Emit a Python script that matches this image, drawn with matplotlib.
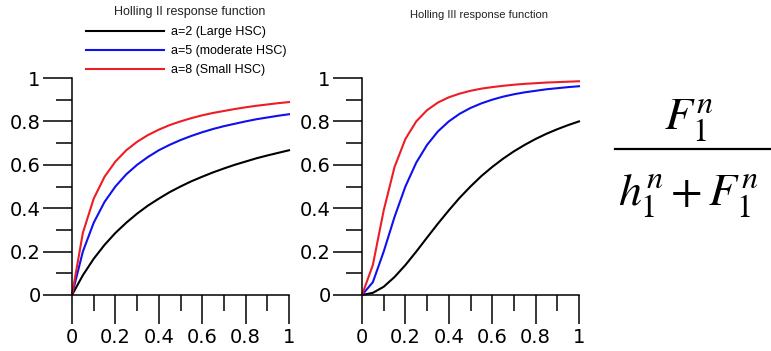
import numpy as np
import matplotlib.pyplot as plt
from matplotlib.lines import Line2D

# values (x step 0.05)
x = [0, 0.05, 0.1, 0.15, 0.2, 0.25, 0.3, 0.35, 0.4, 0.45, 0.5,
     0.55, 0.6, 0.65, 0.7, 0.75, 0.8, 0.85, 0.9, 0.95, 1.0]

# Holling II
h2_a2 = [0, 0.091, 0.167, 0.231, 0.286, 0.333, 0.375, 0.412, 0.444, 0.474, 0.5,
         0.524, 0.545, 0.565, 0.583, 0.6, 0.615, 0.630, 0.643, 0.655, 0.667]
h2_a5 = [0, 0.2, 0.333, 0.429, 0.5, 0.556, 0.6, 0.636, 0.667, 0.692, 0.714,
         0.733, 0.75, 0.765, 0.778, 0.789, 0.8, 0.81, 0.818, 0.826, 0.833]
h2_a8 = [0, 0.286, 0.444, 0.545, 0.615, 0.667, 0.706, 0.737, 0.762, 0.783, 0.8,
         0.815, 0.828, 0.839, 0.848, 0.857, 0.865, 0.872, 0.878, 0.884, 0.889]

# Holling III
h3_a2 = [0, 0.01, 0.038, 0.083, 0.138, 0.2, 0.265, 0.329, 0.39, 0.448, 0.5,
         0.548, 0.59, 0.628, 0.662, 0.692, 0.719, 0.743, 0.764, 0.783, 0.8]
h3_a5 = [0, 0.059, 0.2, 0.36, 0.5, 0.61, 0.692, 0.754, 0.8, 0.835, 0.862,
         0.883, 0.9, 0.914, 0.925, 0.934, 0.941, 0.948, 0.953, 0.958, 0.962]
h3_a8 = [0, 0.138, 0.39, 0.59, 0.719, 0.8, 0.852, 0.887, 0.911, 0.928, 0.941,
         0.951, 0.958, 0.964, 0.969, 0.973, 0.976, 0.979, 0.981, 0.983, 0.985]

labels = ['a=2 (Large HSC)', 'a=5 (moderate HSC)', 'a=8 (Small HSC)']
colors = ['black', '#1010ee', '#ee1c24']
ticks = [0, 0.2, 0.4, 0.6, 0.8, 1]
tick_labels = ['0', '0.2', '0.4', '0.6', '0.8', '1']

W, H = 771, 351
fig = plt.figure(figsize=(W / 100, H / 100), dpi=100)

def make_axes(x0):
    ax = fig.add_axes([x0 / W, 1 - 295 / H, 217 / W, 217 / H])
    ax.set_xlim(0, 1)
    ax.set_ylim(0, 1)
    for s in ['top', 'right']:
        ax.spines[s].set_visible(False)
    for s in ['left', 'bottom']:
        ax.spines[s].set_linewidth(1.1)
    ax.set_xticks(ticks)
    ax.set_xticklabels(tick_labels)
    ax.set_yticks(ticks)
    ax.set_yticklabels(tick_labels)
    ax.set_xticks([0.1, 0.3, 0.5, 0.7, 0.9], minor=True)
    ax.set_yticks([0.1, 0.3, 0.5, 0.7, 0.9], minor=True)
    ax.tick_params(which='major', length=21, width=1.1, direction='out')
    ax.tick_params(which='minor', length=11.5, width=1.1, direction='out')
    ax.tick_params(axis='y', which='major', pad=1.5)
    ax.tick_params(axis='x', which='major', pad=2.5)
    for lab in ax.get_xticklabels() + ax.get_yticklabels():
        lab.set_fontfamily('DejaVu Sans')
        lab.set_fontsize(14)
    return ax

ax1 = make_axes(72)
ax2 = make_axes(362)

lines = []
for ys, c, lab in zip([h2_a2, h2_a5, h2_a8], colors, labels):
    l, = ax1.plot(x, ys, color=c, lw=1.5, label=lab, clip_on=False)
    lines.append(l)
for ys, c in zip([h3_a2, h3_a5, h3_a8], colors):
    ax2.plot(x, ys, color=c, lw=1.5, clip_on=False)

fig.text(190 / W, 1 - 12 / H, 'Holling II response function', ha='center', va='center',
         fontsize=9, family='Liberation Sans', color='#222222')
fig.text(479 / W, 1 - 15 / H, 'Holling III response function', ha='center', va='center',
         fontsize=8, family='Liberation Sans', color='#222222')

leg = fig.legend(handles=lines, loc='upper left', bbox_to_anchor=(80 / W, 1 - 20 / H),
                 frameon=False, borderpad=0, handlelength=6.2, handletextpad=0.6,
                 labelspacing=0.55, prop={'family': 'Liberation Sans', 'size': 9})

# formula
plt.rcParams['mathtext.fontset'] = 'stix'
fig.text(689 / W, 1 - 130 / H, r'$F_1^n$', ha='center', va='baseline', fontsize=33)
fig.add_artist(Line2D([615 / W, 770 / W], [1 - 149 / H, 1 - 149 / H], color='black', lw=1.6))
fig.text(688 / W, 1 - 205 / H, r'$h_1^n+F_1^n$', ha='center', va='baseline', fontsize=33)

fig.savefig('out.png', dpi=100)
